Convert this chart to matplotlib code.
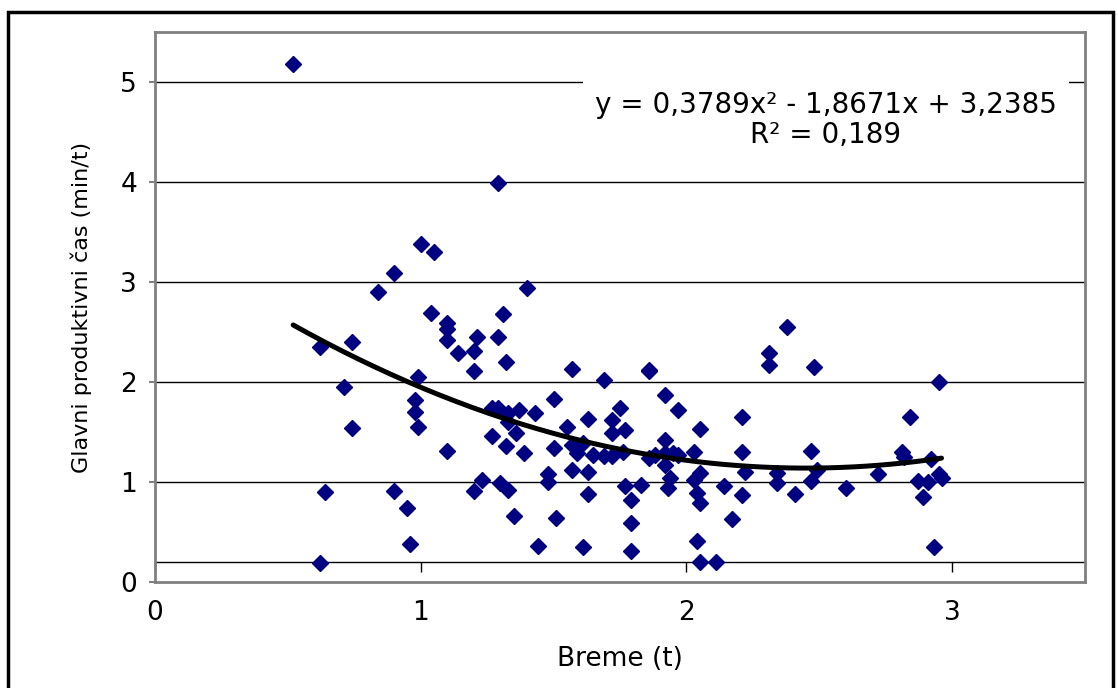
import numpy as np
import matplotlib
matplotlib.use("Agg")
import matplotlib.pyplot as plt
from matplotlib.patches import Rectangle

plt.rcParams['font.family'] = ['DejaVu Sans']

# data --------------------------------------------------------
breme = [0.52, 0.62, 0.62, 0.64, 0.71, 0.74, 0.74, 0.84, 0.90, 0.90,
         0.95, 0.96, 0.98, 0.98, 0.99, 0.99, 1.00, 1.05, 1.04, 1.10,
         1.10, 1.10, 1.10, 1.14, 1.20, 1.20, 1.21, 1.20, 1.23, 1.29,
         1.29, 1.40, 1.31, 1.32, 1.27, 1.29, 1.33, 1.37, 1.43, 1.33,
         1.27, 1.32, 1.36, 1.39, 1.50, 1.55, 1.63, 1.57, 1.59, 1.61,
         1.65, 1.69, 1.72, 1.76, 1.75, 1.72, 1.72, 1.77, 1.57, 1.69,
         1.50, 1.30, 1.33, 1.48, 1.48, 1.57, 1.63, 1.63, 1.77, 1.79,
         1.79, 1.79, 1.35, 1.51, 1.44, 1.61, 1.83, 1.86, 1.92, 1.97,
         1.92, 1.86, 1.88, 1.92, 1.92, 1.95, 1.97, 2.03, 2.05, 2.05,
         2.03, 1.94, 1.93, 2.04, 2.05, 2.04, 2.05, 2.11, 2.14, 2.17,
         2.21, 2.21, 2.22, 2.21, 2.31, 2.31, 2.34, 2.34, 2.41, 2.38,
         2.48, 2.95, 2.84, 2.47, 2.49, 2.47, 2.60, 2.72, 2.81, 2.82,
         2.87, 2.91, 2.89, 2.92, 2.95, 2.96, 2.93, 1.86]
glavni_cas = [5.18, 2.35, 0.19, 0.90, 1.95, 2.40, 1.54, 2.90, 3.09, 0.91,
              0.74, 0.38, 1.82, 1.70, 2.05, 1.55, 3.38, 3.30, 2.69, 2.59,
              2.53, 2.42, 1.31, 2.29, 2.31, 2.11, 2.45, 0.91, 1.02, 2.45,
              3.99, 2.94, 2.68, 2.20, 1.74, 1.74, 1.69, 1.72, 1.69, 1.60,
              1.46, 1.36, 1.49, 1.29, 1.34, 1.55, 1.63, 1.37, 1.29, 1.39,
              1.27, 1.26, 1.26, 1.30, 1.74, 1.62, 1.49, 1.52, 2.13, 2.02,
              1.83, 0.99, 0.92, 1.08, 1.00, 1.12, 1.10, 0.88, 0.96, 0.82,
              0.59, 0.31, 0.66, 0.64, 0.36, 0.35, 0.97, 2.11, 1.87, 1.72,
              1.42, 1.24, 1.27, 1.29, 1.17, 1.29, 1.27, 1.30, 1.53, 1.09,
              1.02, 1.04, 0.94, 0.89, 0.79, 0.41, 0.20, 0.20, 0.96, 0.63,
              1.65, 1.30, 1.10, 0.87, 2.29, 2.17, 1.09, 0.99, 0.88, 2.55,
              2.15, 2.00, 1.65, 1.31, 1.12, 1.01, 0.94, 1.08, 1.30, 1.25,
              1.01, 1.00, 0.85, 1.23, 1.08, 1.04, 0.35, 2.12]
# trend curve as drawn in the picture (sits ~0.2 above the printed equation)
trend_koef = [0.384, -1.882, 3.445]
enacba = 'y = 0,3789x² - 1,8671x + 3,2385\nR² = 0,189'
x_ticks = [0, 1, 2, 3]
y_ticks = [0, 1, 2, 3, 4, 5]
x_cross = 0.2   # horizontal axis crosses here


def main():
    fig = plt.figure(figsize=(11.18, 6.88), dpi=100)
    ax = fig.add_axes([155 / 1118, 106 / 688, 930 / 1118, 550 / 688])

    ax.set_xlim(0, 3.5)
    ax.set_ylim(0, 5.5)

    # mreza
    for yv in y_ticks[1:]:
        ax.axhline(yv, color='black', lw=1.0, zorder=1)

    ax.plot(breme, glavni_cas, 'D', ms=8.5, color='#000080', mec='#000080', zorder=3)

    xs = np.linspace(min(breme), max(breme), 200)
    ax.plot(xs, np.polyval(trend_koef, xs), color='black', lw=3.6, zorder=4,
            solid_capstyle='round')

    # x os seka pri 0,2
    sec = ax.secondary_xaxis(x_cross / 5.5)
    sec.set_xticks(x_ticks)
    sec.tick_params(axis='x', direction='out', length=7, width=1,
                    color='black', labelbottom=False)
    sec.spines['bottom'].set_color('black')
    sec.spines['bottom'].set_linewidth(1.0)

    ax.set_xticks(x_ticks)
    ax.set_yticks(y_ticks)
    ax.tick_params(axis='x', length=0, pad=13, labelsize=19)
    ax.tick_params(axis='y', direction='out', length=4, width=1.5,
                   color='#808080', pad=9, labelsize=19)

    for s in ax.spines.values():
        s.set_color('#808080')
        s.set_linewidth(2)

    ax.set_xlabel('Breme (t)', fontsize=19, labelpad=14)
    ax.set_ylabel('Glavni produktivni čas (min/t)', fontsize=16, labelpad=20)

    ax.text(0.7215, 0.84, enacba,
            transform=ax.transAxes, ha='center', va='center', fontsize=20,
            multialignment='center', zorder=5, linespacing=1.1,
            bbox=dict(facecolor='white', edgecolor='none', pad=9))

    # okvir okoli grafa
    fig.patches.append(Rectangle((8 / 1118, -0.1), 1105 / 1118, 1.1 - 12 / 688,
                                 transform=fig.transFigure, fill=False,
                                 edgecolor='black', lw=2.5))

    fig.savefig('out.png', dpi=100)


if __name__ == "__main__":
    main()
